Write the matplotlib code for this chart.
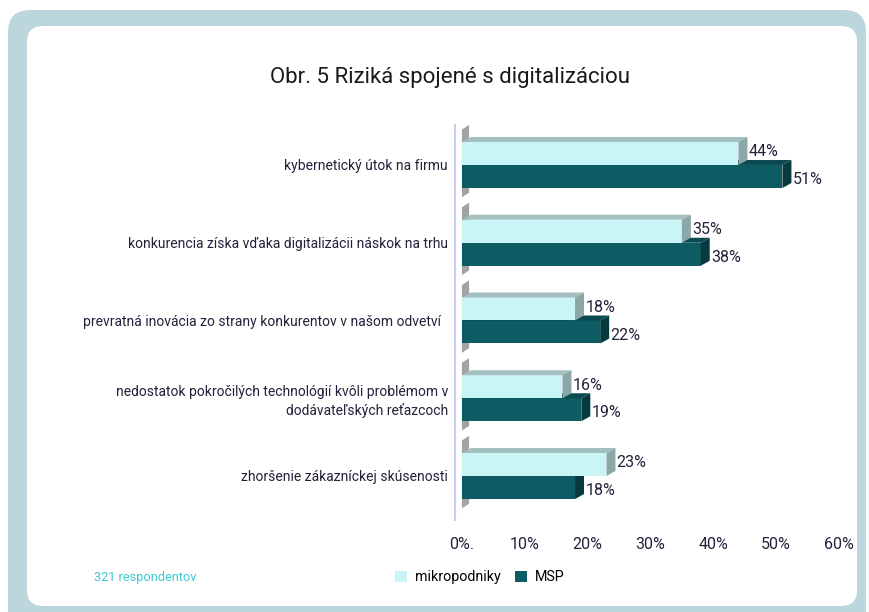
import numpy as np
import matplotlib
matplotlib.use("Agg")
import matplotlib.pyplot as plt
from matplotlib.patches import FancyBboxPatch, Polygon, Patch

plt.rcParams['font.family'] = ['Roboto', 'DejaVu Sans']

# Data
categories = [
    "kybernetický útok na firmu",
    "konkurencia získa vďaka digitalizácii náskok na trhu",
    "prevratná inovácia zo strany konkurentov v našom odvetví  ",
    "nedostatok pokročilých technológií kvôli problémom v\ndodávateľských reťazcoch",
    "zhoršenie zákazníckej skúsenosti",
]
mikro = [44, 35, 18, 16, 23]
msp = [51, 38, 22, 19, 18]
xticks = [0, 10, 20, 30, 40, 50, 60]
xtick_labels = ["0%.", "10%", "20%", "30%", "40%", "50%", "60%"]

# colours
light_front, light_top, light_side = "#c9f5f7", "#a3bfbf", "#8ba7a7"
dark_front, dark_top, dark_side = "#0d5c63", "#0a4a50", "#063a3f"
text_col = "#22223a"

W, H = 869, 612
fig = plt.figure(figsize=(W / 100, H / 100), dpi=100)

# background frame
bg = fig.add_axes([0, 0, 1, 1], zorder=-10)
bg.set_xlim(0, W)
bg.set_ylim(H, 0)
bg.axis('off')
bg.add_patch(FancyBboxPatch((8, 10), 858, 640, boxstyle="round,pad=0,rounding_size=22",
                            fc="#bcd6dd", ec="none"))
bg.add_patch(FancyBboxPatch((27, 26), 830, 580, boxstyle="round,pad=0,rounding_size=16",
                            fc="white", ec="none"))

# main axes
ax = fig.add_axes([455 / W, 1 - 520 / H, (839 - 455) / W, (520 - 125) / H])
ax.set_xlim(-1.1, 60)
ax.set_ylim(4.566, -0.514)
ax.patch.set_alpha(0)
for s in ax.spines.values():
    s.set_visible(False)
ax.axvline(-1.1, color="#c9cdf0", lw=1.5, clip_on=False)

y = np.arange(len(categories))
h = 0.296
dx = 1.43   # depth in x units
dy = 0.064  # depth in y units

def bar3d(v, yc, front, top, side):
    t, b = yc - h / 2, yc + h / 2
    ax.barh(yc, v, height=h, left=0, color=front, zorder=3)
    ax.add_patch(Polygon([(0, t), (v, t), (v + dx, t - dy), (dx, t - dy)],
                         closed=True, fc=top, ec="none", zorder=3))
    ax.add_patch(Polygon([(v, t), (v + dx, t - dy), (v + dx, b - dy), (v, b)],
                         closed=True, fc=side, ec="none", zorder=3))

for i in range(len(categories)):
    # wall shadow
    t, b = y[i] - h, y[i] + h
    ax.add_patch(Polygon([(0, t - 0.16), (dx * 0.8, t - 0.22), (dx * 0.8, b + 0.06), (0, b + 0.12)],
                         closed=True, fc="#666666", ec="none", alpha=0.6, zorder=2))
    bar3d(msp[i], y[i] + h / 2, dark_front, dark_top, dark_side)
    bar3d(mikro[i], y[i] - h / 2, light_front, light_top, light_side)
    ax.text(mikro[i] + dx + 0.2, y[i] - h / 2 - 0.02, f"{mikro[i]}%", va="center", ha="left",
            fontsize=11.5, color=text_col, zorder=5)
    ax.text(msp[i] + dx + 0.2, y[i] + h / 2 + 0.04, f"{msp[i]}%", va="center", ha="left",
            fontsize=11.5, color=text_col, zorder=5)

ax.set_yticks(y)
ax.set_yticklabels(categories, fontsize=10, color=text_col, linespacing=1.3)
ax.tick_params(axis='y', length=0, pad=5)
ax.set_xticks(xticks)
ax.set_xticklabels(xtick_labels, fontsize=11.5, color=text_col)
ax.tick_params(axis='x', length=0, pad=12)

fig.text(450 / W, 1 - 77 / H, "Obr. 5 Riziká spojené s digitalizáciou", ha="center", va="center",
         fontsize=16, color="#1a1a1a")
fig.text(94 / W, 1 - 578 / H, "321 respondentov", ha="left", va="center", fontsize=9.2,
         color="#3ec9d3")

handles = [Patch(fc=light_front, ec="none"), Patch(fc=dark_front, ec="none")]
fig.legend(handles, ["mikropodniky", "MSP"], loc="center", bbox_to_anchor=(480 / W, 1 - 577 / H),
           ncol=2, frameon=False, fontsize=10.3, handlelength=0.8, handleheight=0.8,
           handletextpad=0.6, columnspacing=1.0)

fig.savefig("out.png", dpi=100)
